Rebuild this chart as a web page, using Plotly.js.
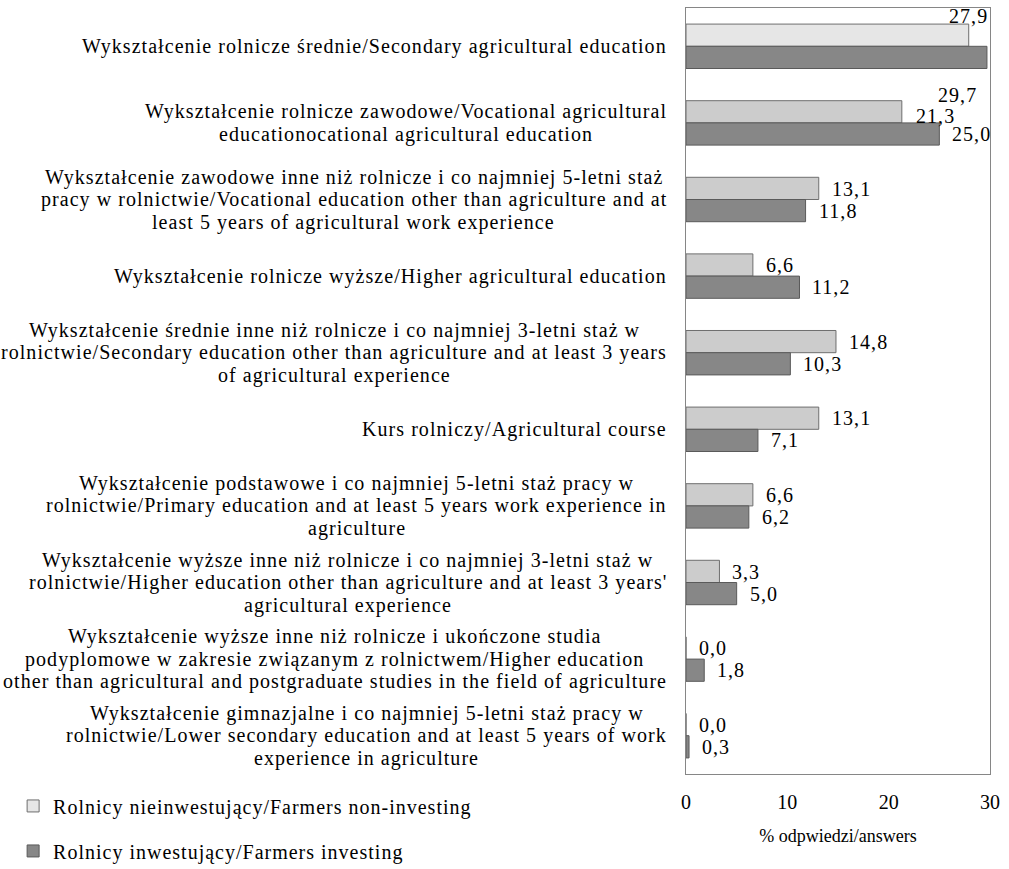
<!DOCTYPE html>
<html>
<head>
<meta charset="utf-8">
<script src="https://cdn.plot.ly/plotly-3.0.1.min.js"></script>
<style>
html,body{margin:0;padding:0;background:#fff;}
#chart{width:1009px;height:869px;}
text.annotation-text{letter-spacing:1.05px;}
text.legendtext{letter-spacing:1px;}
</style>
</head>
<body>
<div id="chart"></div>
<script>
const categories = [
  "Wykształcenie rolnicze średnie/Secondary agricultural education",
  "Wykształcenie rolnicze zawodowe/Vocational agricultural<br>educationocational agricultural education",
  "Wykształcenie zawodowe inne niż rolnicze i co najmniej 5-letni staż<br>pracy w rolnictwie/Vocational education other than agriculture and at<br>least 5 years of agricultural work experience",
  "Wykształcenie rolnicze wyższe/Higher agricultural education",
  "Wykształcenie średnie inne niż rolnicze i co najmniej 3-letni staż w<br>rolnictwie/Secondary education other than agriculture and at least 3 years<br>of agricultural experience",
  "Kurs rolniczy/Agricultural course",
  "Wykształcenie podstawowe i co najmniej 5-letni staż pracy w<br>rolnictwie/Primary education and at least 5 years work experience in<br>agriculture",
  "Wykształcenie wyższe inne niż rolnicze i co najmniej 3-letni staż w<br>rolnictwie/Higher education other than agriculture and at least 3 years'<br>agricultural experience",
  "Wykształcenie wyższe inne niż rolnicze i ukończone studia<br>podyplomowe w zakresie związanym z rolnictwem/Higher education<br>other than agricultural and postgraduate studies in the field of agriculture",
  "Wykształcenie gimnazjalne i co najmniej 5-letni staż pracy w<br>rolnictwie/Lower secondary education and at least 5 years of work<br>experience in agriculture"
];
const nonInvesting = [27.9, 21.3, 13.1, 6.6, 14.8, 13.1, 6.6, 3.3, 0.0, 0.0];
const investing = [29.7, 25.0, 11.8, 11.2, 10.3, 7.1, 6.2, 5.0, 1.8, 0.3];
const seriesNames = ["Rolnicy nieinwestujący/Farmers non-investing", "Rolnicy inwestujący/Farmers investing"];
const xTickValues = [0, 10, 20, 30];
const xTitle = "% odpwiedzi/answers";

const FONT = "Liberation Serif";
const FS = 20;
const LETTER_SP = 1.05;
const LINE_H = 22.5;
const LABEL_GAP = 19;
const catIds = categories.map((c, i) => "c" + i);

// label placement tweaks (pixel offsets) for crowded labels
const labelTweaks = {
  "0-0": {xanchor: "center", xshift: 0, yshift: 19},
  "1-0": {xanchor: "left", xshift: -51, yshift: -38},
  "0-1": {xanchor: "left", xshift: 12, yshift: -4}
};

const lightColors = nonInvesting.map((v, i) => i === 0 ? "#e6e6e6" : "#cccccc");

const traces = [
  {type: "bar", orientation: "h", name: seriesNames[0], y: catIds, x: nonInvesting,
   marker: {color: lightColors, line: {color: "#6e6e6e", width: 1}}, legendgroup: "a", hoverinfo: "x"},
  {type: "bar", orientation: "h", name: seriesNames[1], y: catIds, x: investing,
   marker: {color: "#878787", line: {color: "#5a5a5a", width: 1}}, legendgroup: "b", hoverinfo: "x"}
];

// measure text widths to centre the lines of each label block, right-aligned to the axis
const ctx = document.createElement("canvas").getContext("2d");
ctx.font = FS + "px '" + FONT + "'";
const textW = s => ctx.measureText(s).width + LETTER_SP * [...s].length;

const fmt = v => v.toFixed(1).replace(".", ",");
const annotations = [];
categories.forEach((c, i) => {
  const lines = c.split("<br>");
  const W = Math.max(...lines.map(textW));
  const n = lines.length;
  lines.forEach((ln, j) => {
    annotations.push({xref: "paper", yref: "y", x: 0, y: catIds[i], xanchor: "center",
      xshift: -LABEL_GAP - W / 2, yanchor: "middle", yshift: ((n - 1) / 2 - j) * LINE_H,
      text: ln, showarrow: false, font: {family: FONT, size: FS, color: "#000"}});
  });
});
[nonInvesting, investing].forEach((arr, s) => {
  arr.forEach((v, i) => {
    const t = labelTweaks[s + "-" + i] || {};
    annotations.push({xref: "x", yref: "y", x: v, y: catIds[i], text: fmt(v), showarrow: false,
      xanchor: t.xanchor || "left", yanchor: "middle",
      xshift: t.xshift !== undefined ? t.xshift : 11,
      yshift: (s === 0 ? 11 : -11) + (t.yshift || 0),
      font: {family: FONT, size: FS, color: "#000"}});
  });
});

const layout = {
  width: 1009, height: 869,
  margin: {l: 686, r: 19, t: 8, b: 95, autoexpand: false},
  paper_bgcolor: "#fff", plot_bgcolor: "#fff",
  barmode: "group", bargap: 0.42, bargroupgap: 0,
  font: {family: FONT, size: FS, color: "#000"},
  xaxis: {range: [0, 30], tickvals: xTickValues, ticks: "", showgrid: false, zeroline: false,
    showline: true, mirror: true, linecolor: "#868686", linewidth: 1.3, automargin: false,
    ticklabelstandoff: 10,
    tickfont: {family: FONT, size: FS, color: "#000"},
    title: {text: xTitle, font: {family: FONT, size: 18, color: "#000"}, standoff: 17}},
  yaxis: {type: "category", range: [9.5, -0.5], autorange: false, showticklabels: false, ticks: "", showgrid: false,
    zeroline: false, showline: true, mirror: true, linecolor: "#868686", linewidth: 1.3, automargin: false},
  showlegend: true,
  legend: {xref: "container", yref: "container", x: 0.013, xanchor: "left", y: 0.095, yanchor: "top",
    traceorder: "grouped", tracegroupgap: 16,
    font: {family: FONT, size: FS, color: "#000"}, bgcolor: "rgba(0,0,0,0)"},
  annotations: annotations
};

Plotly.newPlot("chart", traces, layout, {displayModeBar: false, staticPlot: true});
</script>
</body>
</html>
